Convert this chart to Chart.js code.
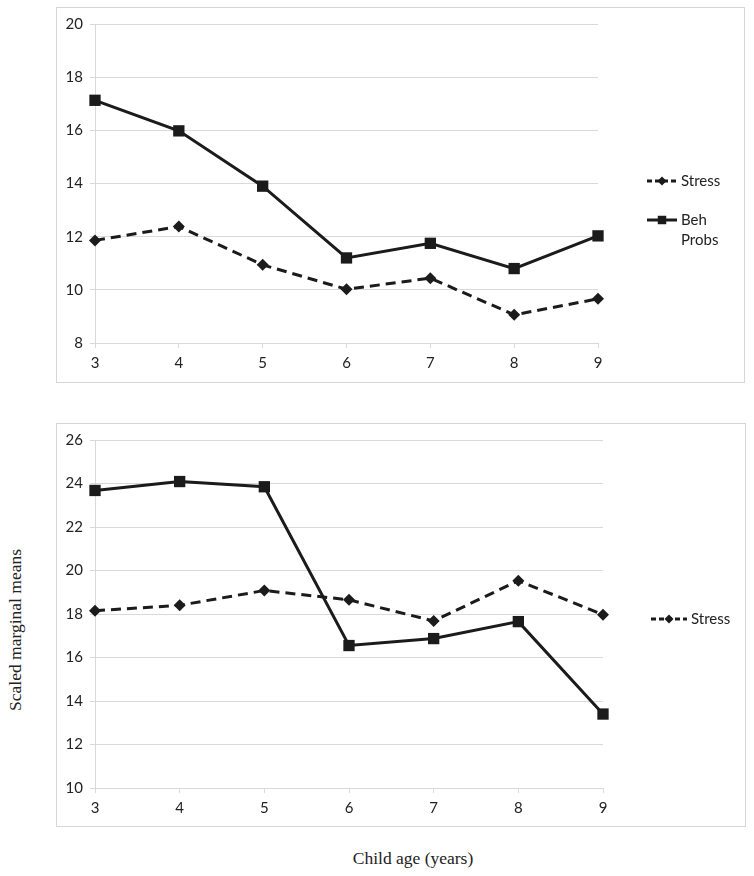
<!DOCTYPE html>
<html>
<head>
<meta charset="utf-8">
<script src="https://cdn.jsdelivr.net/npm/chart.js@4.4.1/dist/chart.umd.min.js"></script>
<style>
  body { margin: 0; background: #fff; width: 754px; height: 876px; position: relative; overflow: hidden; }
  .box { position: absolute; border: 1px solid #d6d6d6; box-sizing: border-box; }
  .box canvas { position: absolute; left: 0; top: 0; }
  .title { position: absolute; font-family: "Liberation Serif", "DejaVu Serif", serif; font-size: 17.5px; color: #222; white-space: nowrap; }
</style>
</head>
<body>
<div class="box" id="box-top" style="left:56px; top:7px; width:689px; height:376px;">
  <canvas id="chartTop"></canvas>
</div>
<div class="box" id="box-bottom" style="left:56px; top:423px; width:690px; height:404px;">
  <canvas id="chartBottom"></canvas>
</div>
<div class="title" id="ytitle" style="left:15px; top:630px; transform: translate(-50%, -50%) rotate(-90deg);">Scaled marginal means</div>
<div class="title" id="xtitle" style="left:413px; top:858px; transform: translate(-50%, -50%);">Child age (years)</div>

<script>
// données
const ages = ['3', '4', '5', '6', '7', '8', '9'];
const stressTop = [11.86, 12.38, 10.94, 10.02, 10.44, 9.06, 9.66];
const behTop = [17.13, 15.98, 13.9, 11.2, 11.75, 10.8, 12.03];
const stressBottom = [18.15, 18.4, 19.08, 18.65, 17.68, 19.53, 17.97];
const behBottom = [23.68, 24.09, 23.85, 16.55, 16.87, 17.65, 13.4];
const rangeTop = [8, 20];
const rangeBottom = [10, 26];

const INK = '#1b1b1b';
const GRID = '#d9d9d9';
const FONT = 'Lato, "Open Sans", "Liberation Sans", sans-serif';

Chart.defaults.font.family = FONT;
Chart.defaults.font.size = 15;
Chart.defaults.color = '#222';

function stressSet(values) {
    return {
        label: 'Stress', data: values,
        borderColor: INK, backgroundColor: INK, borderWidth: 3, borderDash: [10, 6],
        pointStyle: 'rectRot', pointRadius: 6, pointBorderWidth: 0
    };
}

function behSet(values) {
    return {
        label: 'Beh Probs', data: values,
        borderColor: INK, backgroundColor: INK, borderWidth: 3,
        pointStyle: 'rect', pointRadius: 8, pointBorderWidth: 0
    };
}

// légende dessinée à la main : trait + marqueur au milieu, texte sur plusieurs lignes
const lineLegend = {
    id: 'lineLegend',
    afterDraw(chart, args, opts) {
        const ctx = chart.ctx;
        opts.items.forEach(item => {
            const ds = chart.data.datasets[item.index];
            ctx.save();
            ctx.strokeStyle = ds.borderColor;
            ctx.lineWidth = 3;
            ctx.setLineDash(ds.borderDash ? [5, 3] : []);
            ctx.beginPath();
            ctx.moveTo(item.x, item.y);
            ctx.lineTo(item.x + item.len, item.y);
            ctx.stroke();
            ctx.setLineDash([]);
            ctx.fillStyle = ds.backgroundColor;
            Chart.helpers.drawPoint(ctx, {
                pointStyle: ds.pointStyle, radius: ds.pointRadius * 0.75, rotation: 0, borderWidth: 0
            }, item.x + item.len / 2, item.y);
            ctx.fillStyle = '#222';
            ctx.font = '15px ' + FONT;
            ctx.textBaseline = 'middle';
            item.text.forEach((t, i) => ctx.fillText(t, item.x + item.len + 4, item.y + i * 20));
            ctx.restore();
        });
    }
};

function makeChart(id, w, h, stress, beh, range, yWidth, xHeight, padRight, legendItems) {
    const canvas = document.getElementById(id);
    canvas.width = w;
    canvas.height = h;
    canvas.style.width = w + 'px';
    canvas.style.height = h + 'px';
    return new Chart(canvas, {
        type: 'line',
        data: { labels: ages, datasets: [stressSet(stress), behSet(beh)] },
        plugins: [lineLegend],
        options: {
            responsive: false,
            animation: false,
            layout: { padding: { top: 16, right: padRight, bottom: 0, left: 0 } },
            plugins: {
                legend: { display: false },
                tooltip: { enabled: false },
                lineLegend: { items: legendItems }
            },
            scales: {
                x: {
                    offset: false,
                    grid: { drawOnChartArea: false, drawTicks: true, tickLength: 5, color: GRID },
                    border: { color: GRID },
                    ticks: { padding: 6, maxRotation: 0 },
                    afterFit: s => { s.height = xHeight; }
                },
                y: {
                    min: range[0], max: range[1],
                    grid: { color: GRID, tickLength: 5 },
                    border: { color: GRID },
                    ticks: { stepSize: 2, padding: 7 },
                    afterFit: s => { s.width = yWidth; }
                }
            }
        }
    });
}

makeChart('chartTop', 687, 374, stressTop, behTop, rangeTop, 38, 39, 146, [
    { index: 0, x: 590, y: 173, len: 30, text: ['Stress'] },
    { index: 1, x: 590, y: 212, len: 30, text: ['Beh', 'Probs'] }
]);

makeChart('chartBottom', 688, 402, stressBottom, behBottom, rangeBottom, 38, 38, 142, [
    { index: 0, x: 594, y: 195, len: 36, text: ['Stress'] }
]);
</script>
</body>
</html>
